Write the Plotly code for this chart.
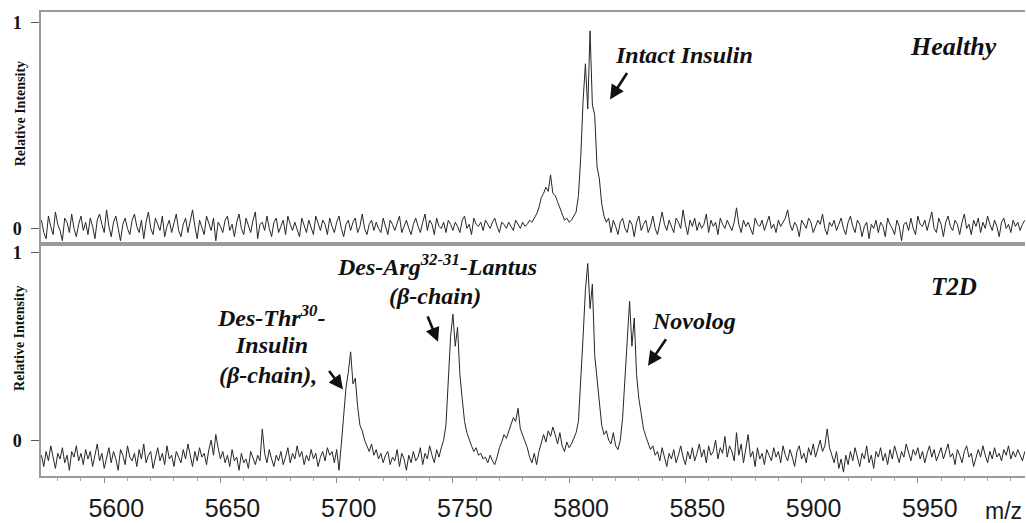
import plotly.graph_objects as go

# m/z sampling grid (one sample per m/z unit)
mz_start = 5573
mz_end = 5996

# Healthy spectrum, relative intensity in percent
healthy_pct = [
    4, -2, -5, 6, 1, -3, 8, 2, -1, -6, 5, 3, -2, 7, 0, -4, 2, 6, -1, 3,
    -3, 5, 1, -5, 4, 7, 2, -2, 9, 1, -4, 3, 6, -1, -6, 2, 5, 0, -3, 4,
    7, 1, -2, 4, -5, 3, 8, 0, -3, 5, 2, -1, 6, -4, 1, 4, -2, 3, 7, -1,
    -4, 2, 5, -2, 3, 9, 1, -5, 4, 0, -3, 6, 2, -1, 5, -6, 3, 1, -2, 4,
    6, -1, 2, -4, 3, 7, 0, -3, 5, 1, -2, 4, 8, -5, 2, 3, -1, 6, 0, -4,
    3, 5, -2, 1, 4, -3, 6, 2, -1, 3, 0, -4, 5, 2, -2, 4, 1, -3, 6, 3,
    -1, 4, 2, -3, 5, 1, -2, 3, 6, 0, -4, 2, 4, -1, 3, 5, -2, 1, 7, 0,
    -3, 2, 4, -1, 3, 0, -2, 5, 1, -3, 4, 2, -1, 3, 6, -2, 1, 4, 0, -3,
    2, 5, 1, -2, 3, 7, -1, 4, 2, -3, 5, 1, 0, 3, -2, 4, 2, -1, 3, 1,
    -2, 4, 6, 0, 2, -3, 5, 2, 1, 3, -1, 4, 2, 0, 3, 5, 1, -2, 3, 2,
    0, 3, 1, -1, 4, 2, 0, 3, 1, 2, 4, 3, 5, 7, 10, 15, 17, 20, 18, 26,
    17, 16, 13, 10, 6, 4, 5, 3, 4, 6, 8, 16, 35, 62, 80, 58, 96, 60, 55, 30,
    24, 12, 6, 3, 5, -2, 4, 1, -3, 3, 5, 0, -2, 4, 2, -4, 3, 6, -1, 2,
    4, -2, 1, 6, 0, -3, 3, 8, 2, -1, 4, 1, -2, 5, 3, 0, 9, 2, -3, 4,
    1, 5, -1, 3, 0, 2, 7, -2, 4, 1, 3, -3, 5, 2, 0, 4, 1, -1, 3, 10,
    2, -2, 4, 1, 3, 0, -3, 5, 2, 1, 4, -1, 3, 6, 0, 2, -2, 4, 1, 3,
    5, 9, 2, -1, 3, 1, -4, 4, 2, 0, 5, 3, -2, 1, 4, 2, 7, 0, -3, 3,
    1, 4, -1, 2, 5, 0, -3, 3, 6, 1, -2, 4, 2, -4, 1, 3, -5, 2, 0, 4,
    -2, 3, 1, -4, 5, 2, 0, -3, 4, 1, -6, 2, 3, -1, 5, 0, -3, 6, 2, 1,
    4, -1, 3, 8, 0, -2, 5, 2, -4, 3, 6, 1, -1, 4, 2, -3, 3, 7, 0, 2,
    -3, 4, 1, 5, -2, 3, 0, 6, 2, -1, 4, 1, -4, 3, 5, 0, 2, -2, 4, 1,
    3, -1, 2, 4,
]

# T2D spectrum, relative intensity in percent
t2d_pct = [
    -8, -14, -6, -11, -3, -9, -15, -7, -10, -4, -12, -8, -16, -6, -9, -3, -11, -7, -13, -5,
    -10, -6, -14, -8, -2, -11, -7, -15, -9, -4, -12, -6, -10, -16, -5, -8, -13, -3, -9, -11,
    -7, -14, -5, -10, -2, -12, -8, -6, -15, -9, -4, -11, -7, -13, -3, -10, -8, -14, -6, -9,
    -12, -5, -10, -2, -8, -14, -6, -11, -4, -9, -7, -13, -5, 0, -8, 3, -4, -10, -6, -12,
    -8, -14, -5, -11, -9, -16, -7, -12, -10, -15, -6, -9, -13, -8, -11, 6, -7, -12, -5, -10,
    -14, -8, -11, -6, -13, -9, -4, -12, -7, -10, -3, -9, -6, -13, -8, -11, -5, -10, -7, -14,
    -9, -6, -11, -4, -8, -6, -12, -5, -16, -2, 12, 28, 36, 47, 30, 33, 18, 8, 5, 0,
    -3, -6, -2, -8, -5, -10, -7, -12, -8, -6, -13, -9, -11, -5, -14, -7, -10, -16, -8, -12,
    -6, -11, -9, -4, -13, -7, -10, -3, -8, -12, -5, -9, -4, 0, 8, 30, 55, 67, 50, 60,
    35, 22, 10, 4, 0, -3, -6, -4, -8, -7, -10, -9, -12, -8, -11, -13, -9, -4, -1, 3,
    1, 5, 8, 12, 10, 17, 6, 3, 0, -4, -9, -12, -7, -13, -6, -2, 3, -1, 5, 2,
    7, 3, -2, 4, -3, -6, -1, -4, -2, 1, 4, 10, 30, 55, 80, 94, 70, 83, 45, 32,
    18, 8, 3, 5, 0, -2, 4, -3, -5, 0, 12, 35, 58, 74, 50, 65, 35, 22, 14, 6,
    2, -1, -5, -3, -8, -6, -11, -4, -9, -14, -7, -10, -5, -12, -8, -3, -9, -13, -6, -10,
    -4, -11, -7, -2, -9, -5, -12, -3, -8, -6, 0, -10, -4, -7, 2, -9, -3, -6, -11, 4,
    -8, -2, -12, -5, 3, -9, -6, -14, -4, -10, -7, -13, -5, -8, -11, -4, -9, -6, -12, -3,
    -8, -11, -5, -9, -14, -6, -3, -10, -7, -12, -4, -8, -2, -9, -5, 0, -6, -3, 6, -4,
    -8, -12, -6, -15, -10, -17, -8, -13, -6, -11, -4, -9, -14, -7, -10, -3, -12, -8, -15, -6,
    -9, -4, -11, -7, -13, -5, -10, -3, -8, -12, -6, -9, -2, -7, -11, -5, -8, -4, -10, -6,
    -12, -7, -3, -9, -5, -11, -8, -4, -10, -6, -2, -9, -7, -13, -5, -8, -12, -6, -3, -9,
    -7, -14, -10, -5, -9, -3, -8, -12, -6, -10, -4, -9, -7, -11, -5, -8, -3, -10, -6, -9,
    -5, -8, -11, -6,
]

x_tick_vals = [5600, 5650, 5700, 5750, 5800, 5850, 5900, 5950]
y_tick_vals = [0, 1]
y_tick_text = ["0", "1"]

mz = list(range(mz_start, mz_end + 1))
healthy = [v / 100 for v in healthy_pct]
t2d = [v / 100 for v in t2d_pct]

W, H = 1026, 523
ML, MR, MT, MB = 41, 1, 12, 44
PW, PH = W - ML - MR, H - MT - MB


def px(xp, yp):
    return (xp - ML) / PW, (H - MB - yp) / PH


LINE = dict(color="#262626", width=1)
SERIF = "Liberation Serif"
SANS = "Liberation Sans"
GRAY = "#9a9a9a"

fig = go.Figure()
fig.add_trace(go.Scatter(x=mz, y=healthy, mode="lines", line=LINE,
                         xaxis="x", yaxis="y", showlegend=False, hoverinfo="skip"))
fig.add_trace(go.Scatter(x=mz, y=t2d, mode="lines", line=LINE,
                         xaxis="x2", yaxis="y2", showlegend=False, hoverinfo="skip"))

xr = [5572.8, 5996.1]
common_y = dict(
    tickvals=y_tick_vals, ticktext=y_tick_text, ticks="outside", ticklen=8,
    tickcolor="#555", tickwidth=1, showline=True, linecolor=GRAY, linewidth=1.5,
    showgrid=False, zeroline=False,
    tickfont=dict(family=SERIF, size=18, color="#111", weight="bold"),
    ticklabelstandoff=6,
)

fig.update_layout(
    width=W, height=H, margin=dict(l=ML, r=MR, t=MT, b=MB),
    paper_bgcolor="white", plot_bgcolor="white",
    xaxis=dict(domain=[0, 1], range=xr, anchor="y", showline=True, mirror=True,
               linecolor=GRAY, linewidth=1.5, showticklabels=False, ticks="",
               showgrid=False, zeroline=False),
    yaxis=dict(domain=[0.5, 1], range=[-0.0757, 1.0516], anchor="x", **common_y),
    xaxis2=dict(domain=[0, 1], range=xr, anchor="y2", showline=True, mirror=True,
                linecolor=GRAY, linewidth=1.5, showgrid=False, zeroline=False,
                tickvals=x_tick_vals, ticks="outside", ticklen=5, tickcolor="#888",
                minor=dict(dtick=10, tick0=5600, ticks="outside", ticklen=3, tickcolor="#aaa"),
                tickfont=dict(family=SANS, size=25, color="#1a1a1a"),
                ticklabelshift=12, ticklabelstandoff=4),
    yaxis2=dict(domain=[0, 0.5], range=[-0.1905, 1.0439], anchor="x2", **common_y),
)

annotations = []


def label(text, xp, yp, size, **kw):
    ax_, ay_ = px(xp, yp)
    annotations.append(dict(text=text, x=ax_, y=ay_, xref="paper", yref="paper",
                            showarrow=False, xanchor="center", yanchor="middle",
                            font=dict(family=SERIF, size=size, color="#111",
                                      weight="bold", style="italic"), **kw))


def arrow(x0, y0, x1, y1):
    hx, hy = px(x1, y1)
    annotations.append(dict(text="", x=hx, y=hy, xref="paper", yref="paper",
                            ax=x0 - x1, ay=y0 - y1, axref="pixel", ayref="pixel",
                            showarrow=True, arrowhead=2, arrowsize=1.1,
                            arrowwidth=2.6, arrowcolor="#111"))


label("Intact Insulin", 684, 55, 24)
label("Healthy", 953, 47, 26)
label("T2D", 954, 288, 25)
label("Novolog", 694, 323, 24)
label("Des-Arg<sup>32-31</sup>-Lantus", 437, 267, 24)
label("(β-chain)", 435, 298, 24)
label("Des-Thr<sup>30</sup>-", 271, 318, 24)
label("Insulin", 271, 347, 24)
label("(β-chain),", 268, 377, 24)

arrow(628, 72, 610, 100)
arrow(328, 372, 343, 392)
arrow(427, 317, 438, 344)
arrow(667, 340, 648, 368)

for yc in (115, 341):
    ax_, ay_ = px(20, yc)
    annotations.append(dict(text="Relative Intensity", x=ax_, y=ay_, xref="paper",
                            yref="paper", showarrow=False, textangle=-90,
                            xanchor="center", yanchor="middle",
                            font=dict(family=SERIF, size=14, color="#111", weight="bold")))

ax_, ay_ = px(1003, 514)
annotations.append(dict(text="m/z", x=ax_, y=ay_, xref="paper", yref="paper",
                        showarrow=False, xanchor="center", yanchor="middle",
                        font=dict(family=SANS, size=23, color="#1a1a1a")))

fig.update_layout(annotations=annotations)
fig.write_html("out.html")
